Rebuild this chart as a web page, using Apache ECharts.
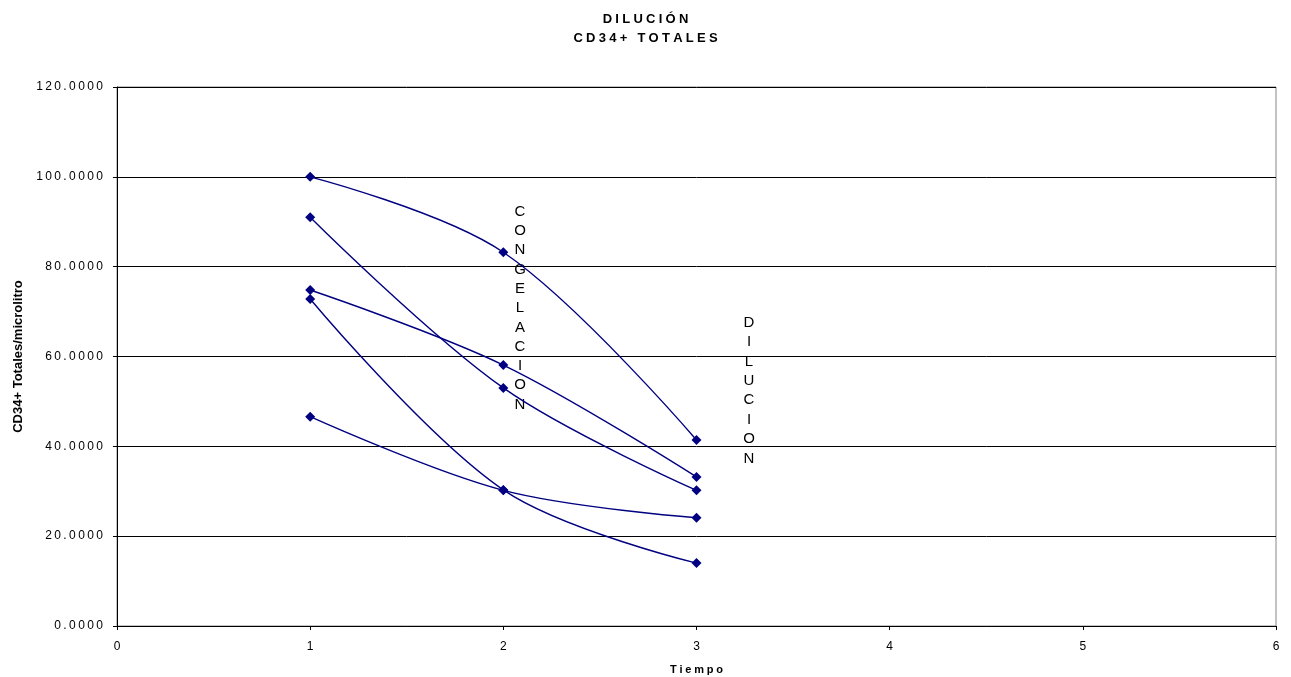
<!DOCTYPE html>
<html><head><meta charset="utf-8">
<script src="https://cdn.jsdelivr.net/npm/echarts@6/dist/echarts.min.js"></script>
<style>html,body{margin:0;padding:0;background:#fff}#c{width:1291px;height:677px}</style>
</head><body><div id="c"></div>
<script>
const times = [1, 2, 3];
const serie1 = [100.0, 83.2, 41.4];
const serie2 = [91.0, 53.0, 30.2];
const serie3 = [74.8, 58.1, 33.2];
const serie4 = [72.8, 30.3, 14.0];
const serie5 = [46.6, 30.2, 24.1];
const yTicks = [0, 20, 40, 60, 80, 100, 120];
const xTicks = [0, 1, 2, 3, 4, 5, 6];
const titleLines = ['DILUCIÓN', 'CD34+ TOTALES'];
const note1 = 'CONGELACION';
const note2 = 'DILUCION';

const spaced = (s, sp) => s.split('').join(sp || '\u2005');
const font = '"Liberation Sans", Arial, sans-serif';
const allSeries = [serie1, serie2, serie3, serie4, serie5];

const chart = echarts.init(document.getElementById('c'), null, {renderer: 'canvas'});
chart.setOption({
  animation: false,
  backgroundColor: '#fff',
  textStyle: {fontFamily: font},
  title: {
    text: titleLines.map(s => spaced(s)).join('\n'),
    left: 'center', top: 5,
    textStyle: {fontSize: 13, fontWeight: 'bold', color: '#000', lineHeight: 19, fontFamily: font}
  },
  grid: {left: 117, right: 15, top: 87, bottom: 51, outerBoundsMode: 'none', containLabel: false,
    show: true, borderColor: '#888', borderWidth: 1, backgroundColor: 'transparent'},
  xAxis: {
    type: 'value', min: xTicks[0], max: xTicks[xTicks.length - 1], interval: 1,
    name: spaced('Tiempo'), nameLocation: 'middle', nameGap: 38,
    nameTextStyle: {fontSize: 11, fontWeight: 'bold', color: '#000', fontFamily: font},
    axisLine: {show: true, onZero: false, lineStyle: {color: '#000', width: 1}},
    axisTick: {show: true, length: 4, lineStyle: {color: '#000'}},
    axisLabel: {fontSize: 12, color: '#000', margin: 15, fontFamily: font},
    splitLine: {show: false}
  },
  yAxis: {
    type: 'value', min: yTicks[0], max: yTicks[yTicks.length - 1], interval: 20,
    name: 'CD34+ Totales/microlitro', nameLocation: 'middle', nameGap: 92, nameRotate: 90,
    nameTextStyle: {fontSize: 13, fontWeight: 'bold', color: '#000', fontFamily: font},
    axisLine: {show: true, lineStyle: {color: '#000', width: 1}},
    axisTick: {show: true, length: 4, lineStyle: {color: '#000'}},
    axisLabel: {fontSize: 12, color: '#000', margin: 14, fontFamily: font,
      formatter: v => spaced(v.toFixed(4), '\u2009')},
    splitLine: {show: true, lineStyle: {color: '#000', width: 1}}
  },
  series: allSeries.map((vals, i) => ({
    type: 'line', name: 'S' + (i + 1),
    data: vals.map((v, j) => [times[j], v]),
    smooth: 0.35,
    symbol: 'diamond', symbolSize: 10,
    lineStyle: {color: '#000080', width: 1.4},
    itemStyle: {color: '#000080'},
    z: 3
  })),
  graphic: [
    {type: 'text', x: 520, y: 202,
      style: {text: note1.split('').join('\n'), lineHeight: 19.3, fill: '#000', align: 'center', font: '15px ' + font}},
    {type: 'text', x: 749, y: 313,
      style: {text: note2.split('').join('\n'), lineHeight: 19.4, fill: '#000', align: 'center', font: '15px ' + font}}
  ]
});
</script></body></html>
